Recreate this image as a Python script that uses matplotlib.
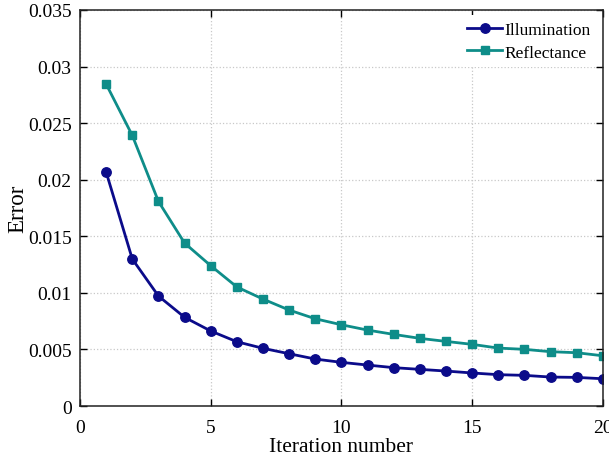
import matplotlib
matplotlib.use("Agg")
import matplotlib.pyplot as plt

iterations = list(range(1, 21))
illumination = [0.02067, 0.01299, 0.00972, 0.00784, 0.00663, 0.00568, 0.00510, 0.00462,
                0.00415, 0.00386, 0.00362, 0.00339, 0.00324, 0.00309, 0.00292, 0.00277,
                0.00271, 0.00256, 0.00253, 0.00241]
reflectance = [0.02845, 0.02391, 0.01808, 0.01440, 0.01240, 0.01052, 0.00945, 0.00848,
               0.00771, 0.00718, 0.00671, 0.00633, 0.00598, 0.00571, 0.00545, 0.00512,
               0.00501, 0.00480, 0.00471, 0.00444]
xticks = [0, 5, 10, 15, 20]
yticks = [0, 0.005, 0.01, 0.015, 0.02, 0.025, 0.03, 0.035]
yticklabels = ["0", "0.005", "0.01", "0.015", "0.02", "0.025", "0.03", "0.035"]

plt.rcParams['font.family'] = ['Liberation Serif', 'DejaVu Serif']

fig = plt.figure(figsize=(6.09, 4.64), dpi=100)
ax = fig.add_axes([0.1314, 0.1228, 0.8586, 0.8535])

ax.plot(iterations, illumination, '-o', color='#0b0b8a', lw=2.0, ms=6.8, label='Illumination')
ax.plot(iterations, reflectance, '-s', color='#0e8d89', lw=2.0, ms=5.6, label='Reflectance')

ax.set_xlim(0, 20)
ax.set_ylim(0, 0.035)
ax.set_xticks(xticks)
ax.set_yticks(yticks)
ax.set_yticklabels(yticklabels)
ax.tick_params(direction='in', top=True, right=True, labelsize=14, length=5, width=1)
ax.tick_params(axis='x', pad=9)
ax.tick_params(axis='y', pad=6)
ax.grid(True, linestyle=':', color='#c8c8c8', lw=0.9)
for s in ax.spines.values():
    s.set_linewidth(1.1)
    s.set_color('#222222')
ax.set_xlabel('Iteration number', fontsize=15.5, labelpad=1)
ax.set_ylabel('Error', fontsize=16.5, labelpad=0)

leg = ax.legend(loc='upper right', fontsize=12.5, frameon=True, handlelength=2.0,
                handletextpad=0.15, borderaxespad=0.3, labelspacing=0.35)
leg.get_frame().set_edgecolor('none')
leg.get_frame().set_facecolor('white')
leg.get_frame().set_alpha(1)

fig.savefig('out.png', dpi=100)
